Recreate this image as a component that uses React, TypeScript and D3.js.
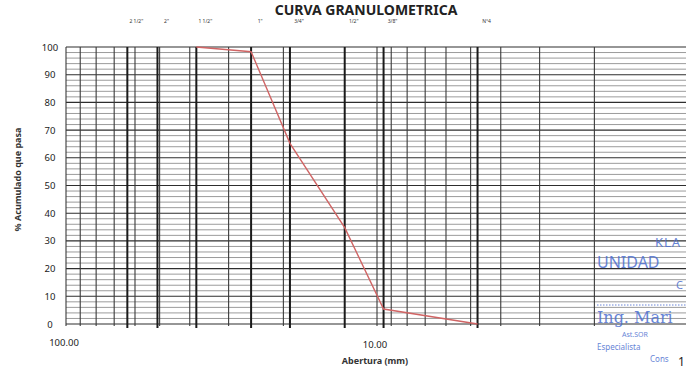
import * as d3 from "d3";

// sieve openings (mm) and their names, shown above the grid
const sieveNames = ['2 1/2"', '2"', '1 1/2"', '1"', '3/4"', '1/2"', '3/8"', "N°4"];
const sieveSizes = [63.5, 50.8, 38.1, 25.4, 19.05, 12.7, 9.525, 4.75];

// test result: opening (mm) vs % passing
const testSizes = [38.1, 25.4, 19.05, 12.7, 9.525, 4.75];
const passing = [100, 98.3, 65.2, 34.8, 5.4, 0];

const yTicks = [0, 10, 20, 30, 40, 50, 60, 70, 80, 90, 100];
const xLabelValues = [100, 10];

// stamp text at right (partly hidden behind page edge in the scan)
const stampLines = ["KLA", "UNIDAD", "C", "Ing. Mari", "Ast.SOR", "Especialista", "Cons"];

const W = 686;
const H = 370;
const font = "'Noto Sans', 'Open Sans', sans-serif";

export default function App() {
  const x = d3.scaleLog().domain([100, 1]).range([66, 66 + 2 * 311]);
  const y = d3.scaleLinear().domain([0, 100]).range([324, 47]);

  const minorY = d3.range(0, 101, 2);
  const logTicks = x.ticks().filter((t) => t <= 100 && t >= 1);

  const line = d3
    .line<number>()
    .x((_, i) => x(testSizes[i]))
    .y((d) => y(d));

  const top = y(100);
  const bottom = y(0);

  return (
    <svg
      width={W}
      height={H}
      style={{ position: "absolute", left: 0, top: 0, background: "#fff" }}
    >
      {/* title */}
      <text x={366} y={15} textAnchor="middle" fontFamily={font} fontWeight="bold" fontSize={14} fill="#222">
        CURVA GRANULOMETRICA
      </text>

      {/* sieve names */}
      {sieveNames.map((n, i) => (
        <text key={n} x={x(sieveSizes[i]) + 9} y={23} textAnchor="middle" fontFamily={font} fontSize={5} fill="#333">
          {n}
        </text>
      ))}

      {/* horizontal grid */}
      {minorY.map((v) => (
        <line
          key={"h" + v}
          x1={x(100)}
          x2={W}
          y1={y(v)}
          y2={y(v)}
          stroke={v % 10 === 0 ? "#2e2e2e" : "#7a7a7a"}
          strokeWidth={v % 10 === 0 ? 1.1 : 0.75}
        />
      ))}

      {/* log grid */}
      {logTicks.map((t) => (
        <line key={"v" + t} x1={x(t)} x2={x(t)} y1={top} y2={bottom + 2} stroke="#3a3a3a" strokeWidth={1.1} />
      ))}

      {/* sieve lines */}
      {sieveSizes.map((s) => (
        <line key={"s" + s} x1={x(s)} x2={x(s)} y1={top} y2={bottom + 4} stroke="#1a1a1a" strokeWidth={2} />
      ))}

      {/* curve */}
      <path d={line(passing) ?? ""} fill="none" stroke="#d06464" strokeWidth={1.4} />

      {/* y axis labels */}
      {yTicks.map((t) => (
        <text key={"y" + t} x={50} y={y(t) + 3.5} textAnchor="middle" fontFamily={font} fontSize={9.5} fill="#222">
          {t}
        </text>
      ))}
      <text
        transform={`translate(21, ${(top + bottom) / 2 - 6}) rotate(-90)`}
        textAnchor="middle"
        fontFamily={font}
        fontWeight="bold"
        fontSize={9}
        fill="#333"
      >
        % Acumulado que pasa
      </text>

      {/* x axis labels */}
      {xLabelValues.map((v, i) => (
        <text key={"x" + v} x={x(v) - 2} y={346 + i * 2} textAnchor="middle" fontFamily={font} fontSize={9.5} fill="#222">
          {d3.format(".2f")(v)}
        </text>
      ))}
      <text x={x(10) - 2} y={364} textAnchor="middle" fontFamily={font} fontWeight="bold" fontSize={9} fill="#333">
        Abertura (mm)
      </text>

      {/* stamp */}
      <g fill="#4d6fd0" fontFamily={font} opacity={0.85}>
        <text x={655} y={247} fontSize={13} letterSpacing={1}>{stampLines[0]}</text>
        <text x={597} y={268} fontSize={16}>{stampLines[1]}</text>
        <text x={676} y={289} fontSize={11}>{stampLines[2]}</text>
        <line x1={597} x2={W} y1={305} y2={305} stroke="#4d6fd0" strokeDasharray="1.5 1.5" />
        <text x={597} y={323} fontSize={16} fontFamily="'DejaVu Serif', serif">{stampLines[3]}</text>
        <text x={622} y={337} fontSize={7}>{stampLines[4]}</text>
        <text x={597} y={350} fontSize={8}>{stampLines[5]}</text>
        <text x={650} y={362} fontSize={8}>{stampLines[6]}</text>
      </g>
      <text x={678} y={366} fontFamily={font} fontSize={12} fill="#222">1</text>
    </svg>
  );
}
